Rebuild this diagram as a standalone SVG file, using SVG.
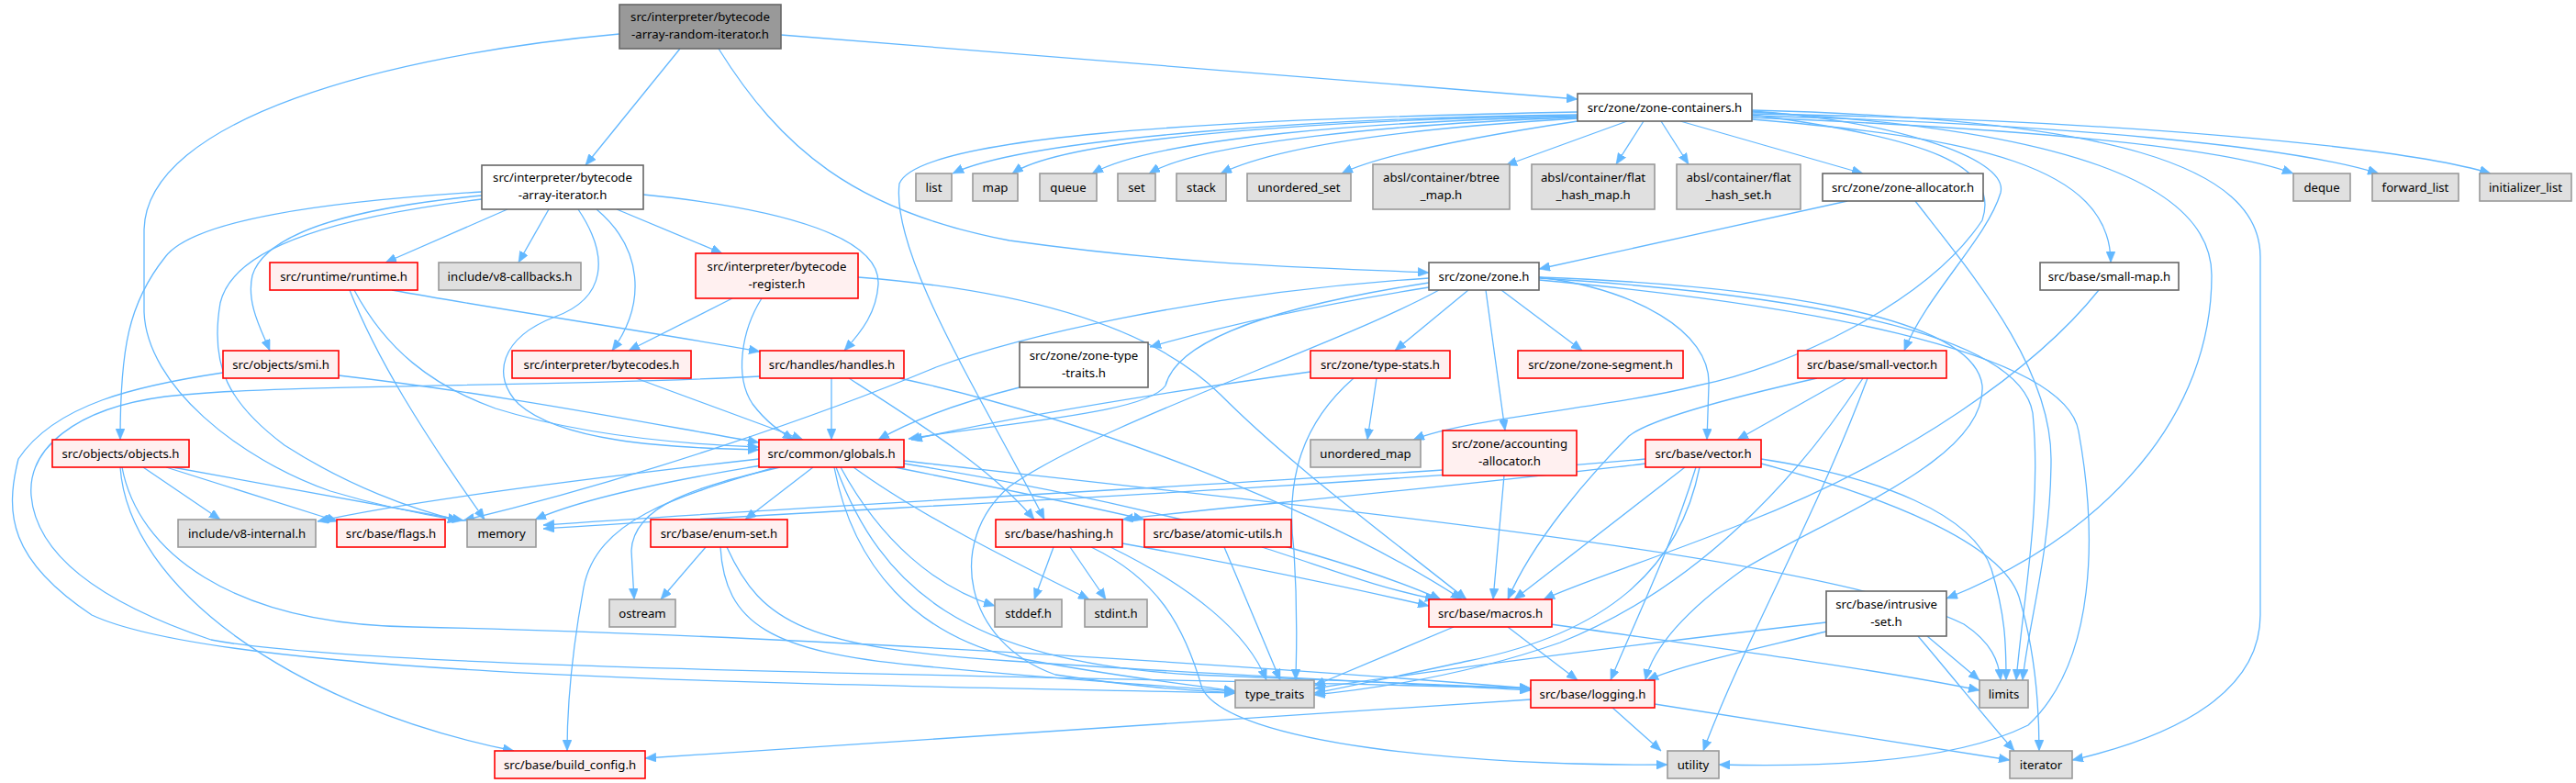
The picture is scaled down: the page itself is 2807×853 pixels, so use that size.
<svg xmlns="http://www.w3.org/2000/svg" width="2807" height="853" viewBox="0 0 2807 853">
<style>
.e{fill:none;stroke:#63b8ff;stroke-width:1.3;marker-end:url(#ah)}
.w{fill:#ffffff;stroke:#666666;stroke-width:1.6}
.g{fill:#e0e0e0;stroke:#999999;stroke-width:1.6}
.r{fill:#fff0f0;stroke:#ff0000;stroke-width:1.6}
.k{fill:#999999;stroke:#666666;stroke-width:1.6}
text{font-family:"Noto Sans","Liberation Sans",sans-serif;font-size:13.2px;fill:#000;text-anchor:middle}
</style>
<defs>
<marker id="ah" markerUnits="userSpaceOnUse" markerWidth="12" markerHeight="10" refX="12" refY="5" orient="auto">
<path d="M0,0 L12,5 L0,10 z" fill="#63b8ff" stroke="#63b8ff" stroke-width="0.5"/>
</marker>
</defs>
<rect x="0" y="0" width="2807" height="853" fill="#ffffff"/>
<g id="connectors">
<path class="e" d="M741,53 L638,180"/>
<path class="e" d="M675,37 C420,60 160,130 157,250 L157,340 C160,420 260,500 360,535 C420,553 470,562 500,567"/>
<path class="e" d="M851,38 L1719,108"/>
<path class="e" d="M783,53 C850,160 930,230 1100,262 C1300,290 1450,292 1557,297"/>
<path class="e" d="M553,228 L420,286"/>
<path class="e" d="M598,228 L565,286"/>
<path class="e" d="M672,228 L787,276"/>
<path class="e" d="M701,212 C860,228 960,260 957,310 C955,340 940,360 920,382"/>
<path class="e" d="M650,228 C700,270 705,330 667,382"/>
<path class="e" d="M630,228 C665,280 660,325 605,345 C545,368 535,410 565,440 C610,480 720,488 827,490"/>
<path class="e" d="M525,213 C400,225 290,250 275,300 C268,330 285,360 294,382"/>
<path class="e" d="M525,209 C350,220 210,240 180,280 C140,330 131,380 131,479"/>
<path class="e" d="M525,217 C380,235 255,265 240,330 C228,400 250,440 310,485 C380,530 450,555 500,567"/>
<path class="e" d="M381,316 C410,390 460,470 528,566"/>
<path class="e" d="M386,316 C420,380 470,420 540,445 C620,470 720,483 827,487"/>
<path class="e" d="M427,316 C560,340 700,360 828,383"/>
<path class="e" d="M798,325 L685,382"/>
<path class="e" d="M830,325 C808,360 800,410 820,440 C835,460 850,470 865,479"/>
<path class="e" d="M935,302 C1100,315 1250,350 1330,430 C1400,500 1480,560 1598,653"/>
<path class="e" d="M693,412 L875,479"/>
<path class="e" d="M906,412 L906,479"/>
<path class="e" d="M925,412 C1000,460 1080,510 1127,566"/>
<path class="e" d="M980,412 C1200,460 1450,560 1593,653"/>
<path class="e" d="M828,410 C600,422 300,418 180,432 C80,445 30,490 34,540 C40,610 120,660 230,697 C400,730 1100,735 1668,750"/>
<path class="e" d="M243,406 C150,420 60,440 20,500 C5,560 10,610 100,670 C250,740 900,745 1346,755"/>
<path class="e" d="M369,409 C550,430 700,460 827,482"/>
<path class="e" d="M156,509 L240,566"/>
<path class="e" d="M181,509 L368,568"/>
<path class="e" d="M188,509 L505,567"/>
<path class="e" d="M133,509 C150,600 250,680 450,683 C800,690 1300,720 1668,750"/>
<path class="e" d="M131,509 C140,640 320,770 560,818"/>
<path class="e" d="M886,509 L812,566"/>
<path class="e" d="M850,509 C760,530 690,550 688,600 L691,653"/>
<path class="e" d="M845,509 C740,540 650,565 636,640 C625,700 618,760 618,818"/>
<path class="e" d="M827,500 C650,520 450,545 346,568"/>
<path class="e" d="M830,507 C720,525 630,545 583,566"/>
<path class="e" d="M975,509 C1080,530 1180,550 1247,566"/>
<path class="e" d="M911,509 C960,640 1050,720 1300,735 C1450,742 1560,746 1668,750"/>
<path class="e" d="M909,509 C930,620 1000,690 1100,715 C1200,735 1290,745 1346,753"/>
<path class="e" d="M916,509 C960,590 1020,640 1084,660"/>
<path class="e" d="M930,509 C1000,560 1100,610 1187,653"/>
<path class="e" d="M985,502 C1500,560 2000,610 2140,680 C2170,700 2178,720 2180,741"/>
<path class="e" d="M985,505 C1200,540 1450,600 1570,653"/>
<path class="e" d="M769,596 L720,653"/>
<path class="e" d="M785,596 C790,680 840,710 1000,725 C1150,740 1280,748 1346,753"/>
<path class="e" d="M792,596 C830,680 880,705 1100,720 C1350,737 1550,745 1668,752"/>
<path class="e" d="M1148,596 L1127,653"/>
<path class="e" d="M1166,596 L1205,653"/>
<path class="e" d="M1210,596 C1300,640 1360,690 1380,741"/>
<path class="e" d="M1223,592 C1350,615 1470,640 1557,660"/>
<path class="e" d="M1189,596 C1260,630 1290,680 1310,750 C1340,810 1600,835 1817,833"/>
<path class="e" d="M1334,596 L1395,741"/>
<path class="e" d="M1375,596 C1450,620 1500,640 1565,653"/>
<path class="e" d="M1600,316 L1520,382"/>
<path class="e" d="M1619,316 L1640,469"/>
<path class="e" d="M1636,316 L1724,382"/>
<path class="e" d="M1677,302 C1780,315 1865,360 1862,420 L1860,479"/>
<path class="e" d="M1557,313 C1450,330 1350,350 1253,378"/>
<path class="e" d="M1557,308 C1350,340 1280,380 1270,420 C1250,450 1100,460 990,478"/>
<path class="e" d="M1557,303 C1300,320 1100,370 1020,400 C900,450 700,520 505,567"/>
<path class="e" d="M1568,316 C1450,380 1200,460 1100,530 C1030,590 1050,700 1150,735 C1250,750 1300,752 1346,755"/>
<path class="e" d="M1677,302 C1900,310 2150,340 2160,420 C2165,500 2000,560 1900,620 C1830,670 1800,710 1793,741"/>
<path class="e" d="M1677,303 C1950,320 2200,360 2215,450 C2225,550 2205,650 2197,741"/>
<path class="e" d="M1677,305 C1950,330 2250,380 2265,470 C2285,580 2285,720 2210,790 C2120,835 1960,835 1873,833"/>
<path class="e" d="M1719,125 C1450,128 1120,150 1038,189"/>
<path class="e" d="M1719,126 C1450,130 1160,150 1103,189"/>
<path class="e" d="M1719,127 C1500,132 1260,150 1190,189"/>
<path class="e" d="M1719,128 C1520,135 1310,155 1252,189"/>
<path class="e" d="M1719,129 C1530,140 1390,160 1330,189"/>
<path class="e" d="M1719,132 C1600,150 1500,170 1462,189"/>
<path class="e" d="M1773,132 L1641,180"/>
<path class="e" d="M1791,132 L1761,179"/>
<path class="e" d="M1810,132 L1840,179"/>
<path class="e" d="M1831,132 L2030,189"/>
<path class="e" d="M1909,128 C2200,140 2420,160 2499,189"/>
<path class="e" d="M1909,126 C2250,135 2500,160 2592,189"/>
<path class="e" d="M1909,124 C2300,130 2620,160 2714,189"/>
<path class="e" d="M1909,130 C2150,150 2300,180 2300,286"/>
<path class="e" d="M1909,121 C2050,130 2190,170 2180,210 C2165,260 2100,320 2075,382"/>
<path class="e" d="M1909,122 C2250,140 2410,200 2410,300 C2410,450 2300,580 2121,652"/>
<path class="e" d="M1909,120 C2300,130 2463,180 2463,280 L2463,670 C2463,750 2380,800 2258,828"/>
<path class="e" d="M1719,122 C1300,130 1000,150 980,200 C970,280 1080,450 1138,566"/>
<path class="e" d="M1909,125 C2100,150 2180,180 2160,240 C2100,330 1950,400 1850,420 C1750,445 1600,455 1540,479"/>
<path class="e" d="M2013,219 L1677,293"/>
<path class="e" d="M2087,219 C2150,300 2235,400 2235,500 C2235,600 2210,680 2204,741"/>
<path class="e" d="M1500,412 L1490,479"/>
<path class="e" d="M1428,405 C1250,430 1100,455 993,479"/>
<path class="e" d="M1475,412 C1420,460 1400,520 1410,600 C1415,680 1412,720 1412,741"/>
<path class="e" d="M1111,422 C1040,440 990,460 957,479"/>
<path class="e" d="M1639,518 L1627,653"/>
<path class="e" d="M1572,512 C1300,530 900,550 592,572"/>
<path class="e" d="M1793,500 C1400,535 900,555 592,576"/>
<path class="e" d="M1793,505 C1500,540 1300,555 1223,566"/>
<path class="e" d="M1836,509 L1650,653"/>
<path class="e" d="M1848,509 C1820,600 1780,680 1755,741"/>
<path class="e" d="M1852,509 C1830,620 1750,690 1600,720 C1530,735 1470,748 1432,755"/>
<path class="e" d="M1919,500 C2050,520 2150,560 2170,620 C2185,670 2186,700 2186,741"/>
<path class="e" d="M1919,505 C2050,540 2180,590 2200,650 C2215,700 2222,760 2222,818"/>
<path class="e" d="M2287,316 C2220,400 2080,500 1900,570 C1800,610 1720,635 1682,653"/>
<path class="e" d="M1980,412 C1900,430 1800,455 1775,475 C1730,520 1670,590 1643,653"/>
<path class="e" d="M2012,412 L1893,479"/>
<path class="e" d="M2030,412 C1960,520 1850,640 1700,700 C1600,735 1500,750 1432,757"/>
<path class="e" d="M2035,412 C1980,560 1900,700 1856,818"/>
<path class="e" d="M1584,683 L1432,747"/>
<path class="e" d="M1643,683 L1719,741"/>
<path class="e" d="M1690,680 C1900,710 2050,730 2157,752"/>
<path class="e" d="M1990,678 C1800,700 1600,725 1432,750"/>
<path class="e" d="M1990,688 C1900,710 1830,725 1795,741"/>
<path class="e" d="M2100,693 L2157,741"/>
<path class="e" d="M2090,693 C2130,740 2170,790 2195,818"/>
<path class="e" d="M1668,762 C1300,785 1000,805 703,826"/>
<path class="e" d="M1756,770 L1810,818"/>
<path class="e" d="M1803,767 L2190,828"/>
</g>
<g id="node-root"><rect class="k" x="675" y="5" width="176" height="48"/><text x="763" y="23">src/interpreter/bytecode</text><text x="763" y="42">-array-random-iterator.h</text></g>
<g id="node-bytecode-array-iterator"><rect class="w" x="525" y="180" width="176" height="48"/><text x="613" y="198">src/interpreter/bytecode</text><text x="613" y="217">-array-iterator.h</text></g>
<g id="node-zone-containers"><rect class="w" x="1719" y="102" width="190" height="30"/><text x="1814" y="121.5">src/zone/zone-containers.h</text></g>
<g id="node-list"><rect class="g" x="998" y="189" width="39" height="30"/><text x="1017.5" y="208.5">list</text></g>
<g id="node-map"><rect class="g" x="1060" y="189" width="49" height="30"/><text x="1084.5" y="208.5">map</text></g>
<g id="node-queue"><rect class="g" x="1133" y="189" width="62" height="30"/><text x="1164" y="208.5">queue</text></g>
<g id="node-set"><rect class="g" x="1218" y="189" width="41" height="30"/><text x="1238.5" y="208.5">set</text></g>
<g id="node-stack"><rect class="g" x="1282" y="189" width="54" height="30"/><text x="1309" y="208.5">stack</text></g>
<g id="node-unordered_set"><rect class="g" x="1359" y="189" width="113" height="30"/><text x="1415.5" y="208.5">unordered_set</text></g>
<g id="node-btree_map"><rect class="g" x="1496" y="179" width="149" height="49"/><text x="1570.5" y="197.5">absl/container/btree</text><text x="1570.5" y="216.5">_map.h</text></g>
<g id="node-flat_hash_map"><rect class="g" x="1669" y="179" width="134" height="49"/><text x="1736" y="197.5">absl/container/flat</text><text x="1736" y="216.5">_hash_map.h</text></g>
<g id="node-flat_hash_set"><rect class="g" x="1827" y="179" width="135" height="49"/><text x="1894.5" y="197.5">absl/container/flat</text><text x="1894.5" y="216.5">_hash_set.h</text></g>
<g id="node-zone-allocator"><rect class="w" x="1986" y="189" width="175" height="30"/><text x="2073.5" y="208.5">src/zone/zone-allocator.h</text></g>
<g id="node-deque"><rect class="g" x="2499" y="189" width="62" height="30"/><text x="2530" y="208.5">deque</text></g>
<g id="node-forward_list"><rect class="g" x="2585" y="189" width="94" height="30"/><text x="2632" y="208.5">forward_list</text></g>
<g id="node-initializer_list"><rect class="g" x="2702" y="189" width="100" height="30"/><text x="2752" y="208.5">initializer_list</text></g>
<g id="node-runtime"><rect class="r" x="294" y="286" width="161" height="30"/><text x="374.5" y="305.5">src/runtime/runtime.h</text></g>
<g id="node-v8-callbacks"><rect class="g" x="478" y="286" width="155" height="30"/><text x="555.5" y="305.5">include/v8-callbacks.h</text></g>
<g id="node-bytecode-register"><rect class="r" x="758" y="276" width="177" height="49"/><text x="846.5" y="294.5">src/interpreter/bytecode</text><text x="846.5" y="313.5">-register.h</text></g>
<g id="node-zone"><rect class="w" x="1557" y="286" width="120" height="30"/><text x="1617" y="305.5">src/zone/zone.h</text></g>
<g id="node-small-map"><rect class="w" x="2223" y="286" width="151" height="30"/><text x="2298.5" y="305.5">src/base/small-map.h</text></g>
<g id="node-smi"><rect class="r" x="243" y="382" width="126" height="30"/><text x="306" y="401.5">src/objects/smi.h</text></g>
<g id="node-bytecodes"><rect class="r" x="558" y="382" width="195" height="30"/><text x="655.5" y="401.5">src/interpreter/bytecodes.h</text></g>
<g id="node-handles"><rect class="r" x="828" y="382" width="157" height="30"/><text x="906.5" y="401.5">src/handles/handles.h</text></g>
<g id="node-zone-type-traits"><rect class="w" x="1111" y="373" width="140" height="49"/><text x="1181" y="391.5">src/zone/zone-type</text><text x="1181" y="410.5">-traits.h</text></g>
<g id="node-type-stats"><rect class="r" x="1428" y="382" width="152" height="30"/><text x="1504" y="401.5">src/zone/type-stats.h</text></g>
<g id="node-zone-segment"><rect class="r" x="1654" y="382" width="180" height="30"/><text x="1744" y="401.5">src/zone/zone-segment.h</text></g>
<g id="node-small-vector"><rect class="r" x="1959" y="382" width="162" height="30"/><text x="2040" y="401.5">src/base/small-vector.h</text></g>
<g id="node-objects"><rect class="r" x="57" y="479" width="149" height="30"/><text x="131.5" y="498.5">src/objects/objects.h</text></g>
<g id="node-globals"><rect class="r" x="827" y="479" width="158" height="30"/><text x="906" y="498.5">src/common/globals.h</text></g>
<g id="node-unordered_map"><rect class="g" x="1428" y="479" width="120" height="30"/><text x="1488" y="498.5">unordered_map</text></g>
<g id="node-accounting-allocator"><rect class="r" x="1572" y="469" width="146" height="49"/><text x="1645" y="487.5">src/zone/accounting</text><text x="1645" y="506.5">-allocator.h</text></g>
<g id="node-vector"><rect class="r" x="1793" y="479" width="126" height="30"/><text x="1856" y="498.5">src/base/vector.h</text></g>
<g id="node-v8-internal"><rect class="g" x="194" y="566" width="150" height="30"/><text x="269" y="585.5">include/v8-internal.h</text></g>
<g id="node-flags"><rect class="r" x="367" y="566" width="118" height="30"/><text x="426" y="585.5">src/base/flags.h</text></g>
<g id="node-memory"><rect class="g" x="509" y="566" width="75" height="30"/><text x="546.5" y="585.5">memory</text></g>
<g id="node-enum-set"><rect class="r" x="709" y="566" width="149" height="30"/><text x="783.5" y="585.5">src/base/enum-set.h</text></g>
<g id="node-hashing"><rect class="r" x="1085" y="566" width="138" height="30"/><text x="1154" y="585.5">src/base/hashing.h</text></g>
<g id="node-atomic-utils"><rect class="r" x="1247" y="566" width="160" height="30"/><text x="1327" y="585.5">src/base/atomic-utils.h</text></g>
<g id="node-ostream"><rect class="g" x="664" y="653" width="72" height="30"/><text x="700" y="672.5">ostream</text></g>
<g id="node-stddef"><rect class="g" x="1084" y="653" width="73" height="30"/><text x="1120.5" y="672.5">stddef.h</text></g>
<g id="node-stdint"><rect class="g" x="1182" y="653" width="68" height="30"/><text x="1216" y="672.5">stdint.h</text></g>
<g id="node-macros"><rect class="r" x="1557" y="653" width="134" height="30"/><text x="1624" y="672.5">src/base/macros.h</text></g>
<g id="node-intrusive-set"><rect class="w" x="1990" y="644" width="131" height="49"/><text x="2055.5" y="662.5">src/base/intrusive</text><text x="2055.5" y="681.5">-set.h</text></g>
<g id="node-type_traits"><rect class="g" x="1346" y="741" width="86" height="30"/><text x="1389" y="760.5">type_traits</text></g>
<g id="node-logging"><rect class="r" x="1668" y="741" width="135" height="30"/><text x="1735.5" y="760.5">src/base/logging.h</text></g>
<g id="node-limits"><rect class="g" x="2157" y="741" width="53" height="30"/><text x="2183.5" y="760.5">limits</text></g>
<g id="node-build_config"><rect class="r" x="539" y="818" width="164" height="30"/><text x="621" y="837.5">src/base/build_config.h</text></g>
<g id="node-utility"><rect class="g" x="1817" y="818" width="56" height="30"/><text x="1845" y="837.5">utility</text></g>
<g id="node-iterator"><rect class="g" x="2190" y="818" width="68" height="30"/><text x="2224" y="837.5">iterator</text></g>
</svg>
